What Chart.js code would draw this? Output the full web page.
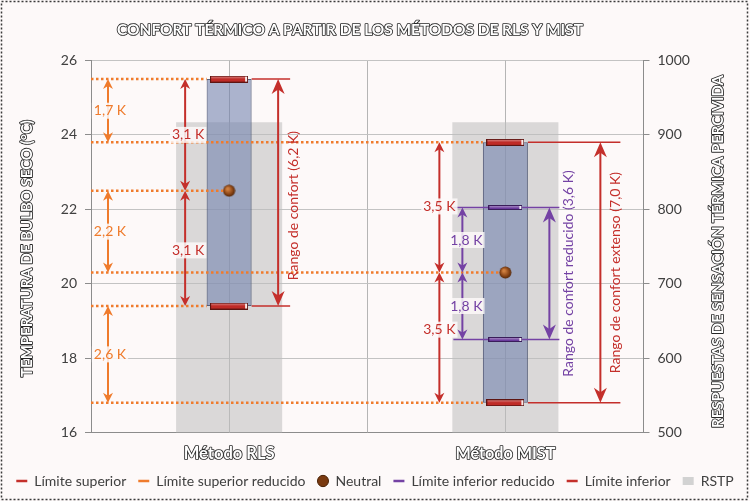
<!DOCTYPE html>
<html>
<head>
<meta charset="utf-8">
<script src="https://cdn.jsdelivr.net/npm/chart.js@4.4.1/dist/chart.umd.min.js"></script>
<style>
  html, body { margin: 0; padding: 0; background: #fff; }
  #wrap { width: 750px; height: 501px; }
</style>
</head>
<body>
<div id="wrap"><canvas id="chart"></canvas></div>
<script>
// values
const categories = ["Método RLS", "Método MIST"];
const upperLimit = [25.5, 23.8];
const upperReduced = [null, 22.05];
const neutral = [22.5, 20.3];
const lowerReduced = [null, 18.5];
const lowerLimit = [19.4, 16.8];
const rstp = [917, 917];
const tempTicks = [16, 18, 20, 22, 24, 26];
const responseTicks = [500, 600, 700, 800, 900, 1000];

const RED = "#c42f2b";
const ORANGE = "#ef7b2c";
const PURPLE = "#7442a4";
const FONT = "Lato";

// small images used as point styles (caps and the neutral sphere)
function capImage(w, h, fill, edge) {
  const c = document.createElement("canvas");
  c.width = w; c.height = h;
  const g = c.getContext("2d");
  g.fillStyle = fill;
  g.fillRect(0, 0, w, h);
  g.strokeStyle = edge;
  g.lineWidth = 1;
  g.strokeRect(0.5, 0.5, w - 1, h - 1);
  g.fillStyle = "rgba(255,255,255,0.3)";
  g.fillRect(1, 1, w - 2, 1.5);
  g.fillStyle = "rgba(255,255,255,0.9)";
  g.fillRect(w - 3, 1, 2, h - 2);
  return c;
}

function sphereImage(d) {
  const c = document.createElement("canvas");
  c.width = d; c.height = d;
  const g = c.getContext("2d");
  const grad = g.createRadialGradient(d * 0.38, d * 0.35, 1, d / 2, d / 2, d / 2);
  grad.addColorStop(0, "#d08040");
  grad.addColorStop(0.6, "#8a4516");
  grad.addColorStop(1, "#4a2206");
  g.fillStyle = grad;
  g.beginPath();
  g.arc(d / 2, d / 2, d / 2 - 0.5, 0, Math.PI * 2);
  g.fill();
  return c;
}

const redCap = capImage(38, 7, "#bf2b27", "#5e1512");
const purpleCap = capImage(34, 5, "#6a3a9c", "#3a1d5a");
const sphere = sphereImage(13);

// helpers for the annotation drawing
function dotted(ctx, x1, x2, y) {
  ctx.save();
  ctx.strokeStyle = ORANGE;
  ctx.lineWidth = 2.5;
  ctx.setLineDash([2.5, 2.5]);
  ctx.beginPath();
  ctx.moveTo(x1, y);
  ctx.lineTo(x2, y);
  ctx.stroke();
  ctx.restore();
}

function hline(ctx, x1, x2, y, color) {
  ctx.save();
  ctx.strokeStyle = color;
  ctx.lineWidth = 1.5;
  ctx.beginPath();
  ctx.moveTo(x1, y);
  ctx.lineTo(x2, y);
  ctx.stroke();
  ctx.restore();
}

function head(ctx, x, tip, dir, hl, hw) {
  ctx.beginPath();
  ctx.moveTo(x, tip);
  ctx.lineTo(x - hw / 2, tip + dir * hl);
  ctx.lineTo(x, tip + dir * hl * 0.7);
  ctx.lineTo(x + hw / 2, tip + dir * hl);
  ctx.closePath();
  ctx.fill();
}

function dblArrow(ctx, x, ya, yb, color, big) {
  const top = Math.min(ya, yb), bot = Math.max(ya, yb);
  const hl = big ? 15 : 10, hw = big ? 13 : 10;
  ctx.save();
  ctx.strokeStyle = color;
  ctx.fillStyle = color;
  ctx.lineWidth = 2;
  ctx.beginPath();
  ctx.moveTo(x, top + hl * 0.6);
  ctx.lineTo(x, bot - hl * 0.6);
  ctx.stroke();
  head(ctx, x, top, 1, hl, hw);
  head(ctx, x, bot, -1, hl, hw);
  ctx.restore();
}

function label(ctx, text, x, y, color) {
  ctx.save();
  ctx.font = "14px " + FONT;
  const w = ctx.measureText(text).width;
  ctx.fillStyle = "rgba(253,249,249,0.85)";
  ctx.fillRect(x - w / 2 - 2, y - 8, w + 4, 16);
  ctx.fillStyle = color;
  ctx.textAlign = "center";
  ctx.textBaseline = "middle";
  ctx.fillText(text, x, y);
  ctx.restore();
}

function vlabel(ctx, text, x, y, color) {
  ctx.save();
  ctx.translate(x, y);
  ctx.rotate(-Math.PI / 2);
  ctx.font = "14px " + FONT;
  ctx.fillStyle = color;
  ctx.textAlign = "center";
  ctx.textBaseline = "middle";
  ctx.fillText(text, 0, 0);
  ctx.restore();
}

// pick a font size so the text spans the width seen in the reference
function fitFont(ctx, text, weight, target) {
  ctx.save();
  ctx.font = weight + " 20px " + FONT;
  const w = ctx.measureText(text).width;
  ctx.restore();
  return weight + " " + (20 * target / w).toFixed(2) + "px " + FONT;
}

function outlined(ctx, text, x, y, width, rot) {
  const font = fitFont(ctx, text, "bold", width);
  ctx.save();
  ctx.translate(x, y);
  if (rot) ctx.rotate(rot);
  ctx.font = font;
  ctx.textAlign = "center";
  ctx.textBaseline = "middle";
  ctx.lineJoin = "round";
  ctx.lineWidth = 1.7;
  ctx.strokeStyle = "#262626";
  ctx.strokeText(text, 0, 0);
  ctx.fillStyle = "#ffffff";
  ctx.fillText(text, 0, 0);
  ctx.restore();
}

const BAR_INDEX = 5;

const decor = {
  id: "decor",
  beforeDraw(chart) {
    const ctx = chart.ctx;
    ctx.save();
    ctx.fillStyle = "#fdf9f9";
    ctx.fillRect(0, 0, chart.width, chart.height);
    ctx.restore();
  },
  beforeDatasetsDraw(chart) {
    // gridlines through the category centres
    const ctx = chart.ctx, a = chart.chartArea, x = chart.scales.x;
    ctx.save();
    ctx.strokeStyle = "#b5b5b5";
    ctx.lineWidth = 1;
    categories.forEach((c, i) => {
      const px = Math.round(x.getPixelForValue(i)) + 0.5;
      ctx.beginPath();
      ctx.moveTo(px, a.top);
      ctx.lineTo(px, a.bottom);
      ctx.stroke();
    });
    ctx.restore();
  },
  afterDatasetDraw(chart, args) {
    if (args.index !== BAR_INDEX) return;
    const ctx = chart.ctx, a = chart.chartArea;
    const y = v => chart.scales.y.getPixelForValue(v);
    const cx = i => chart.scales.x.getPixelForValue(i);
    const bars = chart.getDatasetMeta(BAR_INDEX).data;
    const bl = i => bars[i].x - bars[i].width / 2;
    const br = i => bars[i].x + bars[i].width / 2;

    dotted(ctx, a.left, bl(0), y(upperLimit[0]));
    dotted(ctx, a.left, bl(1), y(upperLimit[1]));
    dotted(ctx, a.left, cx(0), y(neutral[0]));
    dotted(ctx, a.left, cx(1), y(neutral[1]));
    dotted(ctx, a.left, bl(0), y(lowerLimit[0]));
    dotted(ctx, a.left, bl(1), y(lowerLimit[1]));

    hline(ctx, br(0), cx(0) + 61, y(upperLimit[0]), RED);
    hline(ctx, br(0), cx(0) + 61, y(lowerLimit[0]), RED);
    hline(ctx, br(1), cx(1) + 115, y(upperLimit[1]), RED);
    hline(ctx, br(1), cx(1) + 115, y(lowerLimit[1]), RED);
    hline(ctx, cx(1) - 52, cx(1) + 54, y(upperReduced[1]), PURPLE);
    hline(ctx, cx(1) - 52, cx(1) + 54, y(lowerReduced[1]), PURPLE);
  },
  afterDatasetsDraw(chart) {
    const ctx = chart.ctx, a = chart.chartArea;
    const y = v => chart.scales.y.getPixelForValue(v);
    const cx = i => chart.scales.x.getPixelForValue(i);
    const mid = (u, v) => (y(u) + y(v)) / 2;

    // differences between the two methods
    const ox = a.left + 17;
    [[upperLimit, "1,7 K"], [neutral, "2,2 K"], [lowerLimit, "2,6 K"]].forEach(([arr, t]) => {
      dblArrow(ctx, ox, y(arr[0]), y(arr[1]), ORANGE, false);
      label(ctx, t, ox + 2, mid(arr[0], arr[1]), ORANGE);
    });

    // RLS
    const rx = cx(0) - 44;
    dblArrow(ctx, rx, y(upperLimit[0]), y(neutral[0]), RED, false);
    dblArrow(ctx, rx, y(neutral[0]), y(lowerLimit[0]), RED, false);
    label(ctx, "3,1 K", rx + 3, mid(upperLimit[0], neutral[0]), RED);
    label(ctx, "3,1 K", rx + 3, mid(neutral[0], lowerLimit[0]) + 2, RED);
    dblArrow(ctx, cx(0) + 49, y(upperLimit[0]), y(lowerLimit[0]), RED, true);
    vlabel(ctx, "Rango de confort (6,2 K)", cx(0) + 64.5, mid(upperLimit[0], lowerLimit[0]) + 13, RED);

    // MIST
    const mx = cx(1) - 66;
    dblArrow(ctx, mx, y(upperLimit[1]), y(neutral[1]), RED, false);
    dblArrow(ctx, mx, y(neutral[1]), y(lowerLimit[1]), RED, false);
    label(ctx, "3,5 K", mx, mid(upperLimit[1], neutral[1]) - 1, RED);
    label(ctx, "3,5 K", mx, mid(neutral[1], lowerLimit[1]) - 8, RED);
    const px = cx(1) - 43;
    dblArrow(ctx, px, y(upperReduced[1]), y(neutral[1]), PURPLE, false);
    dblArrow(ctx, px, y(neutral[1]), y(lowerReduced[1]), PURPLE, false);
    label(ctx, "1,8 K", px + 4, mid(upperReduced[1], neutral[1]), PURPLE);
    label(ctx, "1,8 K", px + 4, mid(neutral[1], lowerReduced[1]), PURPLE);
    dblArrow(ctx, cx(1) + 44, y(upperReduced[1]), y(lowerReduced[1]), PURPLE, true);
    vlabel(ctx, "Rango de confort reducido (3,6 K)", cx(1) + 63, mid(upperReduced[1], lowerReduced[1]), PURPLE);
    dblArrow(ctx, cx(1) + 95, y(upperLimit[1]), y(lowerLimit[1]), RED, true);
    vlabel(ctx, "Rango de confort extenso (7,0 K)", cx(1) + 110, mid(upperLimit[1], lowerLimit[1]), RED);
  },
  afterDraw(chart) {
    const ctx = chart.ctx, a = chart.chartArea;
    const midY = (a.top + a.bottom) / 2;
    outlined(ctx, "CONFORT TÉRMICO A PARTIR DE LOS MÉTODOS DE RLS Y MIST", 350, 30, 466);
    outlined(ctx, "TEMPERATURA DE BULBO SECO (°C)", 27, midY + 2, 257, -Math.PI / 2);
    outlined(ctx, "RESPUESTAS DE SENSACIÓN TÉRMICA PERCIVIDA", 718, midY + 5, 353, -Math.PI / 2);
    const catWidths = [91, 100];
    categories.forEach((c, i) => {
      outlined(ctx, c, chart.scales.x.getPixelForValue(i), a.bottom + 21.5, catWidths[i]);
    });
    ctx.save();
    ctx.strokeStyle = "#3a3a3a";
    ctx.lineWidth = 1.5;
    ctx.setLineDash([2, 2]);
    ctx.strokeRect(1.5, 1.5, chart.width - 4, chart.height - 3);
    ctx.restore();
  }
};

const legendStyle = [
  { pointStyle: "line", strokeStyle: RED, fillStyle: RED, lineWidth: 2.5 },
  { pointStyle: "line", strokeStyle: ORANGE, fillStyle: ORANGE, lineWidth: 2.5 },
  { pointStyle: "circle", strokeStyle: "#4a2206", fillStyle: "#7a3a10", lineWidth: 1 },
  { pointStyle: "line", strokeStyle: PURPLE, fillStyle: PURPLE, lineWidth: 2.5 },
  { pointStyle: "line", strokeStyle: RED, fillStyle: RED, lineWidth: 2.5 },
  null,
  { pointStyle: "rect", strokeStyle: "#cfcfcf", fillStyle: "#d2d2d2", lineWidth: 0 }
];

const pointSet = (label, data, img) => ({
  type: "line",
  label: label,
  data: data,
  yAxisID: "y",
  showLine: false,
  pointStyle: img,
  pointRadius: 4,
  pointHoverRadius: 4
});

new Chart(document.getElementById("chart"), {
  type: "bar",
  data: {
    labels: categories,
    datasets: [
      pointSet("Límite superior", upperLimit, redCap),
      pointSet("Límite superior reducido", upperReduced, purpleCap),
      pointSet("Neutral", neutral, sphere),
      pointSet("Límite inferior reducido", lowerReduced, purpleCap),
      pointSet("Límite inferior", lowerLimit, redCap),
      {
        type: "bar",
        label: "Rango",
        data: categories.map((c, i) => [lowerLimit[i], upperLimit[i]]),
        yAxisID: "y",
        grouped: false,
        categoryPercentage: 1,
        barPercentage: 0.163,
        backgroundColor: "rgba(112,128,172,0.58)",
        borderColor: "rgba(70,80,110,0.9)",
        borderWidth: 1,
        borderSkipped: false
      },
      {
        type: "bar",
        label: "RSTP",
        data: rstp,
        yAxisID: "y1",
        grouped: false,
        categoryPercentage: 1,
        barPercentage: 0.384,
        backgroundColor: "rgba(190,190,190,0.55)",
        borderWidth: 0
      }
    ]
  },
  options: {
    responsive: true,
    maintainAspectRatio: false,
    animation: false,
    layout: { padding: { top: 60.5, left: 0, right: 0, bottom: 3 } },
    plugins: {
      title: { display: false },
      tooltip: { enabled: false },
      legend: {
        position: "bottom",
        labels: {
          usePointStyle: true,
          pointStyleWidth: 11,
          boxHeight: 8,
          padding: 12,
          color: "#404040",
          font: { family: FONT, size: 14 },
          generateLabels: (chart) => chart.data.datasets
            .map((ds, i) => legendStyle[i] ? Object.assign({
              text: ds.label, datasetIndex: i, hidden: false, fontColor: "#404040"
            }, legendStyle[i]) : null)
            .filter(Boolean)
        }
      }
    },
    scales: {
      x: {
        offset: true,
        grid: { offset: true, color: "#b5b5b5", drawTicks: false },
        border: { color: "#8c8c8c" },
        ticks: { display: false },
        afterFit: (s) => { s.height = 29.5; }
      },
      y: {
        position: "left",
        min: tempTicks[0],
        max: tempTicks[tempTicks.length - 1],
        ticks: { stepSize: tempTicks[1] - tempTicks[0], color: "#404040", font: { family: FONT, size: 14 }, padding: 8 },
        grid: { color: "#c3c3c3", tickLength: 6, tickColor: "#8c8c8c" },
        border: { color: "#8c8c8c" },
        afterFit: (s) => { s.width = 91; }
      },
      y1: {
        position: "right",
        min: responseTicks[0],
        max: responseTicks[responseTicks.length - 1],
        ticks: {
          stepSize: responseTicks[1] - responseTicks[0],
          color: "#404040",
          font: { family: FONT, size: 14 },
          padding: 8,
          callback: (v) => String(v)
        },
        grid: { drawOnChartArea: false, tickLength: 6, tickColor: "#8c8c8c" },
        border: { color: "#8c8c8c" },
        afterFit: (s) => { s.width = 106.5; }
      }
    }
  },
  plugins: [decor]
});
</script>
</body>
</html>
